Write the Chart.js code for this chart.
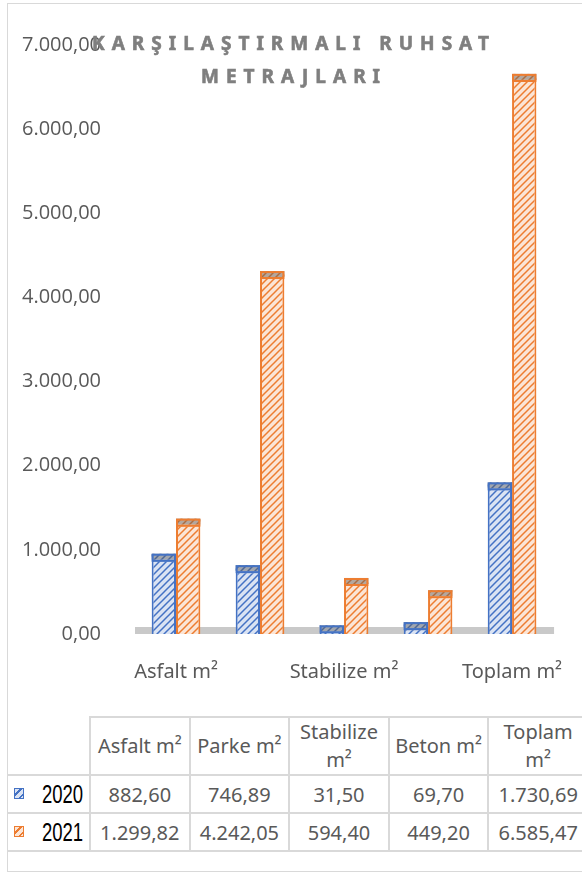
<!DOCTYPE html>
<html lang="tr">
<head>
<meta charset="utf-8">
<script src="https://cdn.jsdelivr.net/npm/chart.js@4"></script>
<style>
  html, body { margin: 0; padding: 0; width: 582px; height: 872px; overflow: hidden; background: #fff; }
  #frame { position: absolute; left: 7px; top: 3px; width: 700px; height: 867px; border: 1px solid #d9d9d9; }
  #chartWrap { position: absolute; left: 0; top: 0; width: 582px; height: 700px; }
  #title { position: absolute; left: 0; top: 27px; width: 588px; text-align: center;
           font-family: "Noto Sans", "Open Sans", sans-serif; font-weight: 700; font-size: 19px;
           color: #7f7f7f; letter-spacing: 7px; line-height: 33px; pointer-events: none;
           -webkit-text-stroke: 0.6px #7f7f7f; }
  #dataTable { position: absolute; left: 8px; top: 716px; width: 580px; border-collapse: collapse; table-layout: fixed;
               font-family: "Noto Sans", sans-serif; font-size: 20px; color: #595959; }
  #dataTable td { border: 2px solid #d9d9d9; text-align: center; padding: 0; white-space: nowrap; overflow: hidden; }
  #dataTable tr.head td { height: 56px; line-height: 28px; }
  #dataTable tr.row td { height: 36px; }
  #dataTable td.corner { border-top: none; border-left: none; }
  #dataTable td.key { border-left: none; text-align: left; color: #000;
                      font-family: "Liberation Sans", sans-serif; font-size: 25px; }
  .yr { display: inline-block; width: 40px; transform: scaleX(0.74); transform-origin: left center; vertical-align: middle; }
  .swatch { display: inline-block; width: 8px; height: 9px; margin: 0 18px 2px 6px; vertical-align: middle;
            border: 1px solid; }
</style>
</head>
<body>
<div id="frame"></div>
<div id="chartWrap"><canvas id="c" width="582" height="700"></canvas></div>
<div id="title">KARŞILAŞTIRMALI RUHSAT<br>METRAJLARI</div>
<table id="dataTable"></table>
<script>
// Categories and yearly surface areas (m²)
const categories = ["Asfalt m²", "Parke m²", "Stabilize m²", "Beton m²", "Toplam m²"];
const headerLabels = [["Asfalt m²"], ["Parke m²"], ["Stabilize", "m²"], ["Beton m²"], ["Toplam", "m²"]];
const seriesNames = ["2020", "2021"];
const values2020 = [882.60, 746.89, 31.50, 69.70, 1730.69];
const values2021 = [1299.82, 4242.05, 594.40, 449.20, 6585.47];
const yTicks = [0, 1000, 2000, 3000, 4000, 5000, 6000, 7000];

const blue = "#4472c4", blueLight = "#dae3f3";
const orange = "#ed7d31", orangeLight = "#fbe5d6";

// Turkish number format: 1.234,56
function fmt(v) {
  const parts = v.toFixed(2).split(".");
  parts[0] = parts[0].replace(/\B(?=(\d{3})+(?!\d))/g, ".");
  return parts[0] + "," + parts[1];
}

// Upward diagonal hatch
function hatch(bg, fg) {
  const s = 7;
  const p = document.createElement("canvas");
  p.width = s; p.height = s;
  const g = p.getContext("2d");
  g.fillStyle = bg; g.fillRect(0, 0, s, s);
  g.strokeStyle = fg; g.lineWidth = 1.5;
  g.beginPath();
  g.moveTo(-1, s + 1); g.lineTo(s + 1, -1);
  g.moveTo(-1, 1); g.lineTo(1, -1);
  g.moveTo(s - 1, s + 1); g.lineTo(s + 1, s - 1);
  g.stroke();
  return g.createPattern(p, "repeat");
}
const ctx0 = document.getElementById("c").getContext("2d");
const bluePattern = hatch(blueLight, blue);
const orangePattern = hatch(orangeLight, orange);

// Grey floor under the columns
const floorPlugin = {
  id: "floor",
  beforeDatasetsDraw(chart) {
    const { ctx, chartArea, scales } = chart;
    const y0 = scales.y.getPixelForValue(0);
    ctx.save();
    ctx.fillStyle = "#c9c9c9";
    ctx.fillRect(chartArea.left + 1, y0 - 7, chartArea.right - chartArea.left - 1, 7);
    ctx.restore();
  }
};

// Top faces of the columns
const capPlugin = {
  id: "caps",
  afterDatasetsDraw(chart) {
    const { ctx } = chart;
    chart.data.datasets.forEach((ds, i) => {
      chart.getDatasetMeta(i).data.forEach(bar => {
        const w = bar.width, x = bar.x - w / 2, h = 6;
        ctx.save();
        ctx.fillStyle = ds.backgroundColor;
        ctx.fillRect(x, bar.y - h, w, h);
        ctx.fillStyle = "rgba(90,90,90,0.45)";
        ctx.fillRect(x, bar.y - h, w, h);
        ctx.strokeStyle = ds.borderColor;
        ctx.lineWidth = 2;
        ctx.strokeRect(x + 1, bar.y - h + 1, w - 2, h);
        ctx.restore();
      });
    });
  }
};

new Chart(ctx0, {
  type: "bar",
  data: {
    labels: categories,
    datasets: [
      { label: seriesNames[0], data: values2020, backgroundColor: bluePattern, borderColor: blue,
        borderWidth: 2, barPercentage: 1, categoryPercentage: 0.58 },
      { label: seriesNames[1], data: values2021, backgroundColor: orangePattern, borderColor: orange,
        borderWidth: 2, barPercentage: 1, categoryPercentage: 0.58 }
    ]
  },
  options: {
    responsive: false,
    animation: false,
    devicePixelRatio: 1,
    layout: { padding: { top: 45, right: 19, left: 0, bottom: 0 } },
    plugins: { legend: { display: false }, tooltip: { enabled: false }, title: { display: false } },
    scales: {
      y: {
        min: 0, max: 7000,
        afterBuildTicks(scale) { scale.ticks = yTicks.map(v => ({ value: v })); },
        afterFit(scale) { scale.width = 134; },
        grid: { display: false }, border: { display: false },
        ticks: { padding: 25, color: "#595959", font: { family: "Open Sans", size: 20 },
                 callback: v => fmt(v) }
      },
      x: {
        afterFit(scale) { scale.height = 66; },
        grid: { display: false }, border: { display: false },
        ticks: { autoSkip: false, maxRotation: 0, padding: 18, color: "#595959",
                 font: { family: "Noto Sans", size: 20 },
                 callback(v, i) { return i % 2 === 0 ? categories[i] : ""; } }
      }
    }
  },
  plugins: [floorPlugin, capPlugin]
});

// Data table below the chart
(function buildTable() {
  const t = document.getElementById("dataTable");
  const cols = '<colgroup><col style="width:82px">' + categories.map(() => '<col style="width:99.6px">').join("") + '</colgroup>';
  let html = cols + '<tr class="head"><td class="corner"></td>' +
    headerLabels.map(l => "<td>" + l.join("<br>") + "</td>").join("") + "</tr>";
  [[values2020, blue, blueLight], [values2021, orange, orangeLight]].forEach(([vals, col, light], i) => {
    const sw = "border-color:" + col + ";background:repeating-linear-gradient(-45deg," + light + " 0 2px," +
      col + " 2px 3.5px," + light + " 3.5px 5px)";
    html += '<tr class="row"><td class="key"><span class="swatch" style="' + sw + '"></span><span class="yr">' +
      seriesNames[i] + "</span></td>" + vals.map(v => "<td>" + fmt(v) + "</td>").join("") + "</tr>";
  });
  t.innerHTML = html;
})();
</script>
</body>
</html>
